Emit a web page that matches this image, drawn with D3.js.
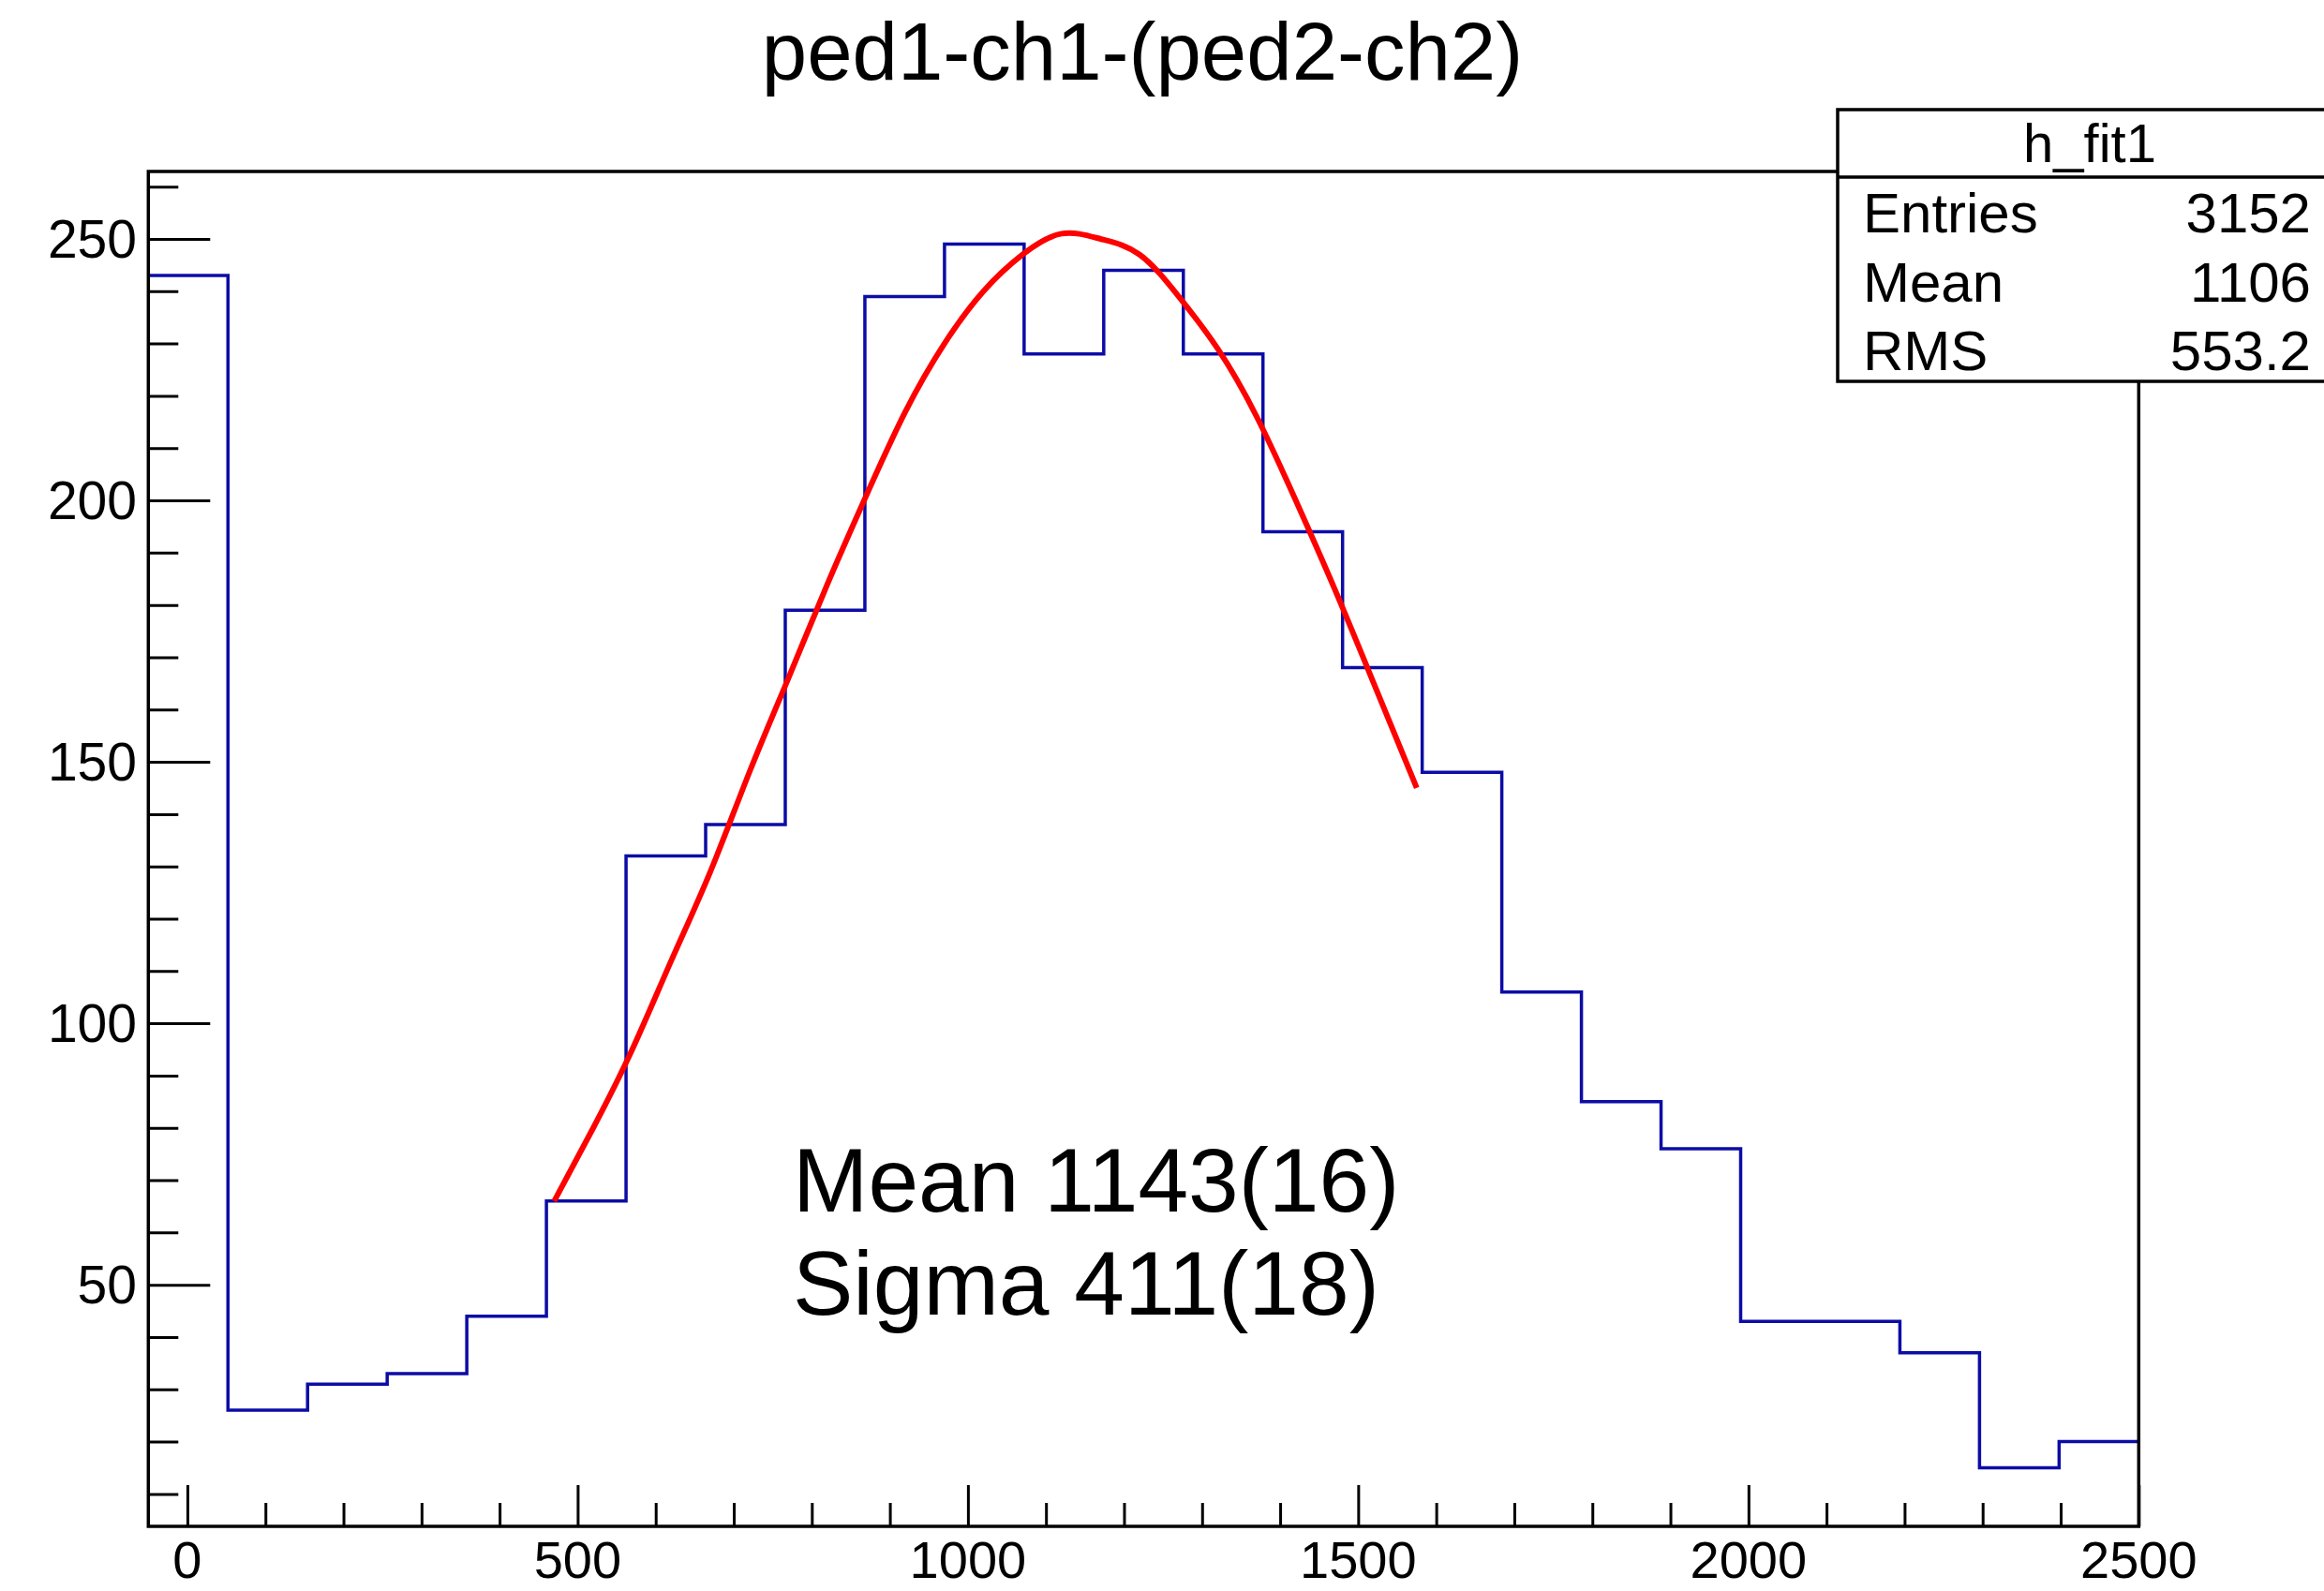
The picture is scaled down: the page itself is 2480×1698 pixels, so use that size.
<!DOCTYPE html>
<html>
<head>
<meta charset="utf-8">
<script src="https://cdn.jsdelivr.net/npm/d3@7/dist/d3.min.js"></script>
<style>
  html, body { margin: 0; padding: 0; background: #fff; }
  svg { display: block; font-family: "Liberation Sans", Arial, Helvetica, sans-serif; }
</style>
</head>
<body>
<svg id="chart" width="2480" height="1698"></svg>
<script>
// ---------- data ----------
const titleText = "ped1-ch1-(ped2-ch2)";
const binEdges = [-50, 52, 154, 256, 358, 460, 562, 664, 766, 868, 970, 1072, 1174,
                  1276, 1378, 1480, 1582, 1684, 1786, 1888, 1990, 2092, 2194, 2296, 2398, 2500];
const binCounts = [243, 26, 31, 33, 44, 66, 132, 138, 179, 239, 249, 228, 244,
                   228, 194, 168, 148, 106, 85, 76, 43, 43, 37, 15, 20];
// fitted curve
const fitX = [470, 520, 570, 620, 670, 720, 770, 820, 870, 920, 970, 1020, 1070,
              1120, 1170, 1220, 1270, 1320, 1370, 1420, 1470, 1520, 1575];
const fitY = [66, 80, 95, 112, 129, 148, 166, 184, 201, 217, 230, 240, 247,
              251, 250, 247, 239, 229, 216, 200, 183, 165, 145];
const xMajorTicks = [0, 500, 1000, 1500, 2000, 2500];
const xMinorTicks = [100, 200, 300, 400, 600, 700, 800, 900, 1100, 1200, 1300, 1400,
                     1600, 1700, 1800, 1900, 2100, 2200, 2300, 2400];
const yMajorTicks = [50, 100, 150, 200, 250];
const yMinorTicks = [10, 20, 30, 40, 60, 70, 80, 90, 110, 120, 130, 140, 160, 170, 180, 190,
                     210, 220, 230, 240, 260];
const statsName = "h_fit1";
const statsLabels = ["Entries", "Mean", "RMS"];
const statsValues = ["3152", "1106", "553.2"];
const fitLines = ["Mean 1143(16)", "Sigma 411(18)"];

// ---------- layout ----------
const svg = d3.select("#chart");
const frame = { left: 158.3, right: 2282.3, top: 183, bottom: 1629 };
const x = d3.scaleLinear().domain([-50, 2500]).range([frame.left, frame.right]);
const y = d3.scaleLinear().domain([3.8, 262.9]).range([frame.bottom, frame.top]);

// title
svg.append("text")
  .attr("x", 1219).attr("y", 85)
  .attr("text-anchor", "middle")
  .attr("font-size", 87)
  .attr("fill", "#000")
  .text(titleText);

// histogram (step line)
const stepPts = binCounts.map((c, i) => [binEdges[i], c]);
stepPts.push([binEdges[binEdges.length - 1], binCounts[binCounts.length - 1]]);
svg.append("path")
  .attr("d", d3.line().x(d => x(d[0])).y(d => y(d[1])).curve(d3.curveStepAfter)(stepPts))
  .attr("fill", "none")
  .attr("stroke", "#0c0ca6")
  .attr("stroke-width", 3.5);

// fit curve
const fitPts = fitX.map((v, i) => [v, fitY[i]]);
svg.append("path")
  .attr("d", d3.line().x(d => x(d[0])).y(d => y(d[1])).curve(d3.curveNatural)(fitPts))
  .attr("fill", "none")
  .attr("stroke", "#ff0000")
  .attr("stroke-width", 6)
  .attr("stroke-linejoin", "round");

// axes via d3 axis generators (ticks drawn inward)
const xAxisMajor = d3.axisTop(x).tickValues(xMajorTicks).tickSize(44).tickFormat("");
const xAxisMinor = d3.axisTop(x).tickValues(xMinorTicks).tickSize(25).tickFormat("");
const yAxisMajor = d3.axisRight(y).tickValues(yMajorTicks).tickSize(66).tickFormat("");
const yAxisMinor = d3.axisRight(y).tickValues(yMinorTicks).tickSize(32).tickFormat("");

function styleAxis(g) {
  g.select(".domain").remove();
  g.selectAll(".tick line").attr("stroke", "#000").attr("stroke-width", 3);
}
svg.append("g").attr("transform", `translate(0,${frame.bottom})`).call(xAxisMajor).call(styleAxis);
svg.append("g").attr("transform", `translate(0,${frame.bottom})`).call(xAxisMinor).call(styleAxis);
svg.append("g").attr("transform", `translate(${frame.left},0)`).call(yAxisMajor).call(styleAxis);
svg.append("g").attr("transform", `translate(${frame.left},0)`).call(yAxisMinor).call(styleAxis);

// tick labels
svg.append("g").selectAll("text").data(xMajorTicks).join("text")
  .attr("x", d => x(d)).attr("y", 1684)
  .attr("text-anchor", "middle")
  .attr("font-size", 56)
  .attr("fill", "#000")
  .text(d => d);
svg.append("g").selectAll("text").data(yMajorTicks).join("text")
  .attr("x", 146).attr("y", d => y(d) + 20)
  .attr("text-anchor", "end")
  .attr("font-size", 57)
  .attr("fill", "#000")
  .text(d => d);

// frame
svg.append("rect")
  .attr("x", frame.left).attr("y", frame.top)
  .attr("width", frame.right - frame.left).attr("height", frame.bottom - frame.top)
  .attr("fill", "none").attr("stroke", "#000").attr("stroke-width", 3.5);

// fit result text
svg.append("g").selectAll("text").data(fitLines).join("text")
  .attr("x", 846).attr("y", (d, i) => 1293 + i * 110)
  .attr("font-size", 96.5)
  .attr("fill", "#000")
  .text(d => d);

// stats box
const box = { left: 1961, top: 117, divider: 189, bottom: 407, right: 2484 };
svg.append("rect")
  .attr("x", box.left).attr("y", box.top)
  .attr("width", box.right - box.left).attr("height", box.bottom - box.top)
  .attr("fill", "#fff").attr("stroke", "#000").attr("stroke-width", 3.5);
svg.append("line")
  .attr("x1", box.left).attr("x2", box.right)
  .attr("y1", box.divider).attr("y2", box.divider)
  .attr("stroke", "#000").attr("stroke-width", 3.5);
svg.append("text")
  .attr("x", 2230).attr("y", 173)
  .attr("text-anchor", "middle")
  .attr("font-size", 58)
  .attr("fill", "#000")
  .text(statsName);
svg.append("g").selectAll("text").data(statsLabels).join("text")
  .attr("x", 1988).attr("y", (d, i) => 248 + i * 73.5)
  .attr("font-size", 60)
  .attr("fill", "#000")
  .text(d => d);
svg.append("g").selectAll("text").data(statsValues).join("text")
  .attr("x", 2466).attr("y", (d, i) => 248 + i * 73.5)
  .attr("text-anchor", "end")
  .attr("font-size", 60)
  .attr("fill", "#000")
  .text(d => d);
</script>
</body>
</html>
